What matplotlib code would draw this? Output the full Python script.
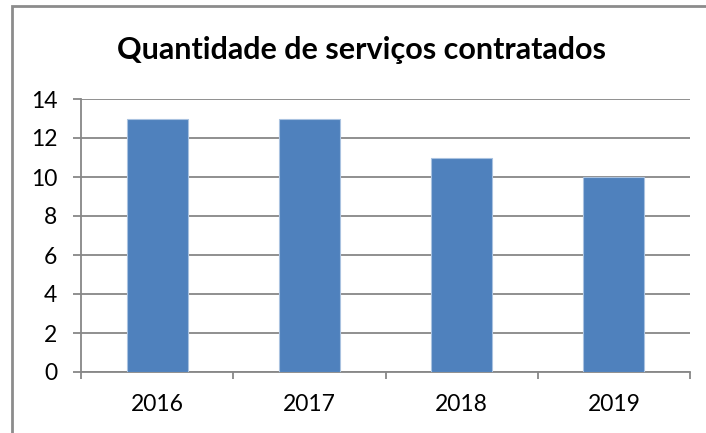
import matplotlib.pyplot as plt
from matplotlib.patches import Rectangle

years = ["2016", "2017", "2018", "2019"]
servicos = [13, 13, 11, 10]

plt.rcParams["font.family"] = ["Lato", "DejaVu Sans"]

W, H = 706, 433
fig = plt.figure(figsize=(W / 100, H / 100), dpi=100)

# Excel-like outer frame
fig.patches.append(Rectangle((12 / W, -0.05), 1.1, (433 - 6) / H + 0.05, transform=fig.transFigure,
                             fill=False, edgecolor="#8c8c8c", linewidth=2))

ax = fig.add_axes([81 / W, (H - 372) / H, (690 - 81) / W, (372 - 99) / H])

x = range(len(years))
ax.bar(x, servicos, width=0.4, color="#4f81bd", edgecolor="#a9c2e0", linewidth=0.8, zorder=3)

ax.set_xlim(-0.5, len(years) - 0.5)
ax.set_ylim(0, 14)
ax.set_yticks(range(0, 15, 2))
ax.grid(axis="y", color="#878787", linewidth=1.3, zorder=0)

ax.set_xticks([i - 0.5 for i in range(len(years) + 1)])
ax.set_xticklabels([])
ax.set_xticks(list(x), minor=True)
ax.set_xticklabels(years, minor=True)
ax.tick_params(axis="x", which="major", length=5, width=1.3, color="#878787")
ax.tick_params(axis="x", which="minor", length=0, pad=16, labelsize=16.5)
ax.tick_params(axis="y", length=6, width=1.3, color="#878787", pad=11, labelsize=16.5)

for s in ["top", "right"]:
    ax.spines[s].set_visible(False)
for s in ["left", "bottom"]:
    ax.spines[s].set_color("#878787")
    ax.spines[s].set_linewidth(1.3)

fig.text(362 / W, 1 - 50 / H, "Quantidade de serviços contratados", ha="center", va="center",
         fontsize=22, fontweight="bold")

fig.savefig("out.png", dpi=100)
